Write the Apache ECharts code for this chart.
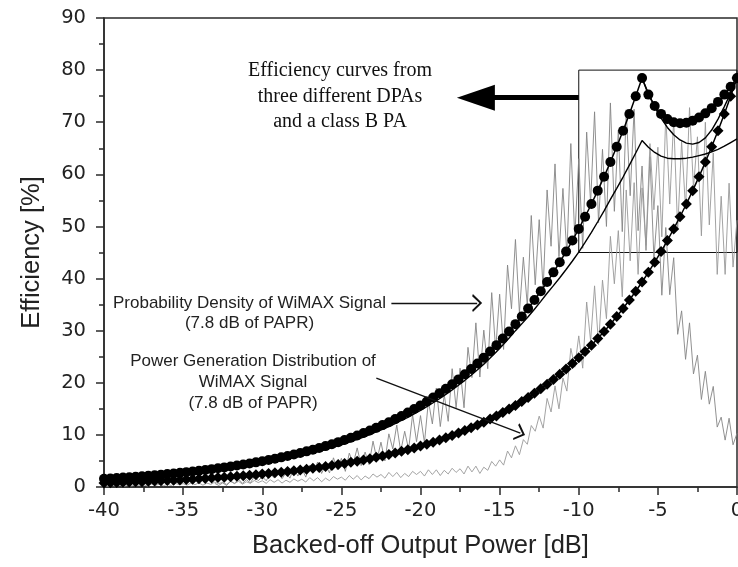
<!DOCTYPE html>
<html><head><meta charset="utf-8">
<script src="https://cdn.jsdelivr.net/npm/echarts@6/dist/echarts.min.js"></script>
<style>html,body{margin:0;padding:0;background:#fff}#c{width:738px;height:567px}</style>
</head><body><div id="c"></div>
<script>
// ---- data ----
const effStart = -40, effStep = 0.4;           // efficiency curves sampling (dB)
const classB = [0.79,0.82,0.86,0.90,0.94,0.99,1.03,1.08,1.13,1.19,1.24,1.30,1.36,1.43,1.50,1.57,1.64,1.72,1.80,1.88,
1.97,2.07,2.16,2.26,2.37,2.48,2.60,2.72,2.85,2.98,3.13,3.27,3.43,3.59,3.76,3.93,4.12,4.31,4.52,4.73,
4.95,5.19,5.43,5.69,5.96,6.24,6.53,6.84,7.16,7.50,7.85,8.22,8.61,9.01,9.44,9.88,10.35,10.83,11.35,11.88,
12.44,13.03,13.64,14.28,14.96,15.66,16.40,17.17,17.98,18.83,19.72,20.65,21.62,22.64,23.71,24.82,25.99,27.22,28.50,29.84,
31.25,32.72,34.26,35.88,37.57,39.34,41.19,43.14,45.17,47.30,49.53,51.86,54.31,56.87,59.55,62.35,65.29,68.37,71.59,74.97,78.5];
const dpaSym = [1.57,1.64,1.72,1.80,1.88,1.97,2.07,2.16,2.26,2.37,2.48,2.60,2.72,2.85,2.98,3.13,3.27,3.43,3.59,3.76,
3.93,4.12,4.31,4.52,4.73,4.95,5.19,5.43,5.69,5.96,6.24,6.53,6.84,7.16,7.50,7.85,8.22,8.61,9.01,9.44,
9.88,10.35,10.83,11.35,11.88,12.44,13.03,13.64,14.28,14.96,15.66,16.40,17.17,17.98,18.83,19.72,20.65,21.62,22.64,23.71,
24.82,25.99,27.22,28.50,29.84,31.25,32.72,34.26,35.88,37.57,39.34,41.19,43.14,45.17,47.30,49.53,51.86,54.31,56.87,59.55,
62.35,65.29,68.37,71.59,74.97,78.5,75.3,73.1,71.6,70.6,70.0,69.8,69.9,70.3,70.9,71.7,72.7,73.9,75.3,76.8,78.5];
const dpa2Start = -34;
const dpa2 = [2.75,2.88,3.03,3.18,3.34,3.50,3.68,3.85,4.05,4.25,4.46,4.68,4.90,5.15,5.40,5.67,5.94,6.23,6.54,6.86,
7.19,7.55,7.92,8.30,8.71,9.14,9.58,10.05,10.56,11.06,11.61,12.17,12.77,13.38,14.05,14.72,15.43,16.17,16.96,17.78,
18.64,19.53,20.47,21.46,22.50,23.58,24.74,25.97,27.25,28.59,30.00,31.31,32.68,34.12,35.62,37.18,38.64,40.16,41.74,43.37,
45.07,46.93,48.88,50.90,53.00,55.18,57.32,59.48,61.78,64.10,66.5,65.2,64.2,63.5,63.1,63.0,63.0,63.1,63.3,63.6,
63.9,64.3,64.8,65.4,66.1,66.8];
const dpa3Start = -6;
const dpa3 = [78.5,75.5,73.0,70.8,69.0,67.6,66.6,66.0,65.8,66.1,67.0,68.5,70.6,73.0,75.6,78.5];

const noiseStep = 0.25;
const pdStart = -33;   // probability density of WiMAX signal
const probDensity = [0.7,0.3,0.8,0.3,1.1,0.7,1.5,0.7,1.4,0.8,2.0,1.2,2.0,1.2,2.5,1.8,3.0,1.6,2.7,1.7,
3.6,2.1,3.5,1.9,4.2,2.9,4.8,2.6,4.2,2.7,5.6,3.3,5.5,3.0,6.5,4.5,7.5,4.1,6.7,4.3,
8.8,5.2,8.6,5.0,10.2,7.3,11.9,6.8,10.7,7.2,13.9,8.7,13.7,8.5,16.5,12.1,19.0,11.6,17.7,12.6,
22.7,15.2,22.8,15.2,26.8,21.0,31.5,21.1,30.1,22.7,37.3,26.3,37.0,26.4,42.6,34.2,47.5,33.4,44.1,34.8,
52.1,38.8,51.3,38.0,57.0,46.2,62.0,44.2,57.3,44.6,65.9,48.0,63.0,45.8,68.1,54.5,72.0,50.7,64.8,50.0,
73.7,52.9,68.5,49.0,72.4,55.9,72.5,49.2,61.6,45.4,63.4,43.9,54.0,36.8,49.8,36.9,44.0,29.3,33.8,24.5,
31.5,21.7,25.3,16.8,22.2,15.9,19.3,11.5,13.4,9.0,13.2,8.1,10.3];
const pgStart = -40;   // power generation distribution
const powerGen = [0.3,0.1,0.3,0.2,0.35,0.1,0.3,0.2,0.4,0.3,0.4,0.2,0.55,0.3,0.55,0.25,0.5,0.3,0.7,0.45,
0.65,0.35,0.8,0.45,0.8,0.35,0.75,0.5,0.95,0.65,0.9,0.5,1.1,0.65,1.1,0.55,1.0,0.7,1.25,0.85,
1.2,0.7,1.4,0.9,1.4,0.75,1.3,0.9,1.55,1.1,1.5,0.95,1.8,1.2,1.8,1.0,1.7,1.2,2.0,1.5,
1.9,1.3,2.2,1.5,2.2,1.35,2.1,1.6,2.5,1.9,2.4,1.7,2.8,2.0,2.8,1.8,2.6,2.0,3.0,2.4,
3.0,2.1,3.3,2.4,3.3,2.2,3.2,2.5,3.6,2.8,3.5,2.5,4.0,2.9,4.0,2.6,3.8,3.2,4.9,4.0,
5.2,4.2,6.9,5.6,7.9,6.2,9.1,8.2,11.8,10.7,13.6,11.3,17.0,14.4,19.4,15.0,20.9,18.4,26.6,23.0,
29.0,22.8,35.5,28.0,38.6,27.3,39.7,32.3,48.1,39.0,49.2,36.5,57.0,43.4,58.4,40.8,57.4,46.4,65.9,53.2,
65.2,48.0,71.5,54.3,70.6,49.3,66.3,53.4,72.8,57.4,67.2,48.2,70.0,50.3,64.1,40.8,55.8,40.8,58.3,42.2,51.2];

// annotation anchors (data coordinates)
const zoomBox = [[-10, 45], [0, 80]];
const bigArrow = [[-10, 74.7], [-16.5, 74.7]];
const pdArrow = [[-21.84, 35.3], [-16.42, 35.3]];
const pgArrow = [[-22.79, 20.9], [-13.69, 10.32]];

function pairs(start, step, arr) { return arr.map((v, i) => [+(start + i * step).toFixed(2), v]); }

const chart = echarts.init(document.getElementById('c'), null, {renderer: 'canvas'});
const axisCol = '#2a2a2a';
const chevron = 'path://M0,10 L6,0 L12,10 L10.6,10.8 L6,3 L1.4,10.8 Z';

const option = {
  animation: false,
  backgroundColor: '#fff',
  grid: {left: 104, right: 1, top: 18, bottom: 80, show: true, borderColor: axisCol, borderWidth: 1.5,
         containLabel: false, outerBoundsMode: 'none'},
  xAxis: {
    type: 'value', min: -40, max: 0, interval: 5,
    axisLine: {show: true, onZero: false, lineStyle: {color: axisCol, width: 1.5}},
    axisTick: {show: true, length: 8, lineStyle: {color: axisCol, width: 1.5}},
    minorTick: {show: true, splitNumber: 2, length: 5, lineStyle: {color: axisCol, width: 1.5}},
    splitLine: {show: false},
    axisLabel: {fontFamily: 'DejaVu Sans', fontSize: 19.5, color: '#222', margin: 14},
    name: 'Backed-off Output Power [dB]', nameLocation: 'middle', nameGap: 46,
    nameTextStyle: {fontFamily: 'Liberation Sans', fontSize: 25.5, color: '#222'}
  },
  yAxis: {
    type: 'value', min: 0, max: 90, interval: 10,
    axisLine: {show: true, onZero: false, lineStyle: {color: axisCol, width: 1.5}},
    axisTick: {show: true, length: 8, lineStyle: {color: axisCol, width: 1.5}},
    minorTick: {show: true, splitNumber: 2, length: 5, lineStyle: {color: axisCol, width: 1.5}},
    splitLine: {show: false},
    axisLabel: {fontFamily: 'DejaVu Sans', fontSize: 19.5, color: '#222', margin: 18},
    name: 'Efficiency [%]', nameLocation: 'middle', nameGap: 59,
    nameTextStyle: {fontFamily: 'Liberation Sans', fontSize: 25.5, color: '#222'}
  },
  series: [
    {name: 'Probability Density', type: 'line', data: pairs(pdStart, noiseStep, probDensity),
     symbol: 'none', lineStyle: {color: '#858585', width: 0.9}, z: 1, silent: true},
    {name: 'Power Generation', type: 'line', data: pairs(pgStart, noiseStep, powerGen),
     symbol: 'none', lineStyle: {color: '#999', width: 0.9}, z: 1, silent: true},
    {name: 'Class B', type: 'line', data: pairs(effStart, effStep, classB),
     symbol: 'diamond', symbolSize: 11, showAllSymbol: true,
     itemStyle: {color: '#000'}, lineStyle: {color: '#000', width: 1.5}, z: 3, silent: true},
    {name: 'DPA sym', type: 'line', data: pairs(effStart, effStep, dpaSym),
     symbol: 'circle', symbolSize: 10, showAllSymbol: true,
     itemStyle: {color: '#000'}, lineStyle: {color: '#000', width: 1.5}, z: 4, silent: true,
     markArea: {silent: true, label: {show: false},
       itemStyle: {color: 'rgba(0,0,0,0)', borderColor: '#111', borderWidth: 1},
       data: [[{coord: zoomBox[0]}, {coord: zoomBox[1]}]]}},
    {name: 'DPA 2', type: 'line', data: pairs(dpa2Start, effStep, dpa2),
     symbol: 'none', lineStyle: {color: '#000', width: 1.4}, z: 3, silent: true,
     markLine: {silent: true, animation: false, label: {show: false},
       symbol: ['none', chevron], symbolSize: [18, 10],
       lineStyle: {color: '#111', width: 1.3, type: 'solid'},
       data: [[{coord: pdArrow[0]}, {coord: pdArrow[1]}], [{coord: pgArrow[0]}, {coord: pgArrow[1]}]]}},
    {name: 'DPA 3', type: 'line', data: pairs(dpa3Start, effStep, dpa3),
     symbol: 'none', lineStyle: {color: '#000', width: 1.4}, z: 3, silent: true,
     markLine: {silent: true, animation: false, label: {show: false},
       symbol: ['none', 'triangle'], symbolSize: [26, 38],
       lineStyle: {color: '#000', width: 5, type: 'solid'},
       data: [[{coord: bigArrow[0]}, {coord: bigArrow[1]}]]}}
  ],
  graphic: [
    {type: 'text', x: 340, y: 96.5, silent: true,
     style: {text: 'Efficiency curves from\nthree different DPAs\nand a class B PA', fontFamily: 'Liberation Serif',
       fontSize: 20, lineHeight: 25.5, fill: '#111', textAlign: 'center', textVerticalAlign: 'middle', align: 'center', verticalAlign: 'middle'}},
    {type: 'text', x: 249.5, y: 313, silent: true,
     style: {text: 'Probability Density of WiMAX Signal\n(7.8 dB of PAPR)', fontFamily: 'Liberation Sans',
       fontSize: 17, lineHeight: 20, fill: '#222', textAlign: 'center', textVerticalAlign: 'middle', align: 'center', verticalAlign: 'middle'}},
    {type: 'text', x: 253, y: 382, silent: true,
     style: {text: 'Power Generation Distribution of\nWiMAX Signal\n(7.8 dB of PAPR)', fontFamily: 'Liberation Sans',
       fontSize: 17, lineHeight: 21, fill: '#222', textAlign: 'center', textVerticalAlign: 'middle', align: 'center', verticalAlign: 'middle'}}
  ]
};
chart.setOption(option);
</script></body></html>
